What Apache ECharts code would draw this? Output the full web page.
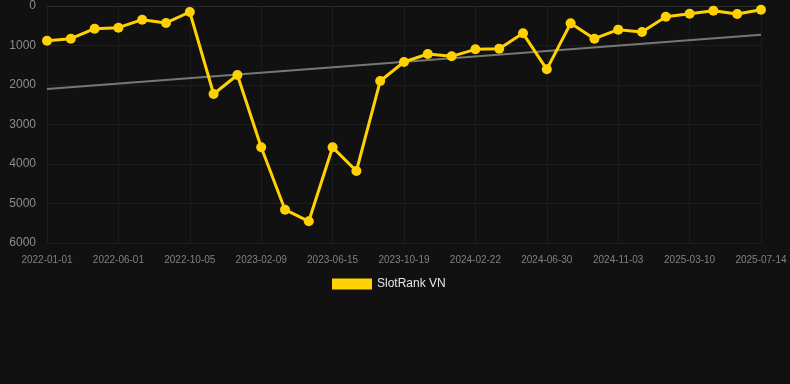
<!DOCTYPE html>
<html>
<head>
<meta charset="utf-8">
<script src="https://cdn.jsdelivr.net/npm/echarts@6/dist/echarts.min.js"></script>
<style>
html,body{margin:0;padding:0;background:#111111;}
#chart{width:790px;height:384px;}
</style>
</head>
<body>
<div id="chart"></div>
<script>
const categories = [
  '2022-01-01','2022-02-20','2022-04-10','2022-06-01','2022-07-13','2022-08-24',
  '2022-10-05','2022-11-16','2022-12-28','2023-02-09','2023-03-23','2023-05-04',
  '2023-06-15','2023-07-27','2023-09-07','2023-10-19','2023-11-30','2024-01-11',
  '2024-02-22','2024-04-05','2024-05-18','2024-06-30','2024-08-11','2024-09-22',
  '2024-11-03','2024-12-15','2025-01-27','2025-03-10','2025-04-21','2025-06-02',
  '2025-07-14'
];
const rankValues = [
  878, 827, 574, 549, 346, 430, 152, 2228, 1747, 3578, 5156, 5451,
  3578, 4177, 1899, 1418, 1215, 1274, 1097, 1080, 692, 1603, 439, 827,
  599, 658, 270, 194, 118, 203, 93
];
const trendStart = 2100;
const trendEnd = 727;
const trendValues = categories.map((c, i) => i === 0 ? trendStart : (i === categories.length - 1 ? trendEnd : null));
const yTicks = [0, 1000, 2000, 3000, 4000, 5000, 6000];

const chart = echarts.init(document.getElementById('chart'), null, {renderer: 'canvas'});
chart.setOption({
  backgroundColor: '#111111',
  animation: false,
  grid: {left: 47, right: 29, top: 6, bottom: 141, containLabel: false},
  legend: {
    data: ['SlotRank VN'],
    top: 273,
    left: 327,
    itemWidth: 40,
    itemHeight: 11,
    itemGap: 10,
    icon: 'rect',
    textStyle: {color: '#e6e6e6', fontSize: 12, fontFamily: 'Liberation Sans, Arial, sans-serif'}
  },
  xAxis: {
    type: 'category',
    data: categories,
    boundaryGap: false,
    axisLine: {show: true, lineStyle: {color: '#2a2a2a'}},
    axisTick: {show: false},
    axisLabel: {interval: 2, color: '#808080', fontSize: 10, margin: 12, fontFamily: 'Liberation Sans, Arial, sans-serif'},
    splitLine: {show: true, interval: 2, lineStyle: {color: '#1c1c1c', width: 1}}
  },
  yAxis: {
    type: 'value',
    inverse: true,
    min: yTicks[0],
    max: yTicks[yTicks.length - 1],
    interval: 1000,
    axisLine: {show: false},
    axisTick: {show: false},
    axisLabel: {color: '#8c8c8c', fontSize: 12, margin: 11, fontFamily: 'Liberation Sans, Arial, sans-serif',
      formatter: v => String(v)},
    splitLine: {show: true, lineStyle: {color: '#1e1e1e', width: 1}}
  },
  series: [
    {
      name: 'Trend',
      type: 'line',
      data: trendValues,
      connectNulls: true,
      symbol: 'none',
      lineStyle: {color: '#777777', width: 2},
      itemStyle: {color: '#777777'},
      silent: true,
      z: 1
    },
    {
      name: 'SlotRank VN',
      type: 'line',
      data: rankValues,
      symbol: 'circle',
      symbolSize: 10,
      showAllSymbol: true,
      lineStyle: {color: '#FFD100', width: 3},
      itemStyle: {color: '#FFD100'},
      z: 2
    }
  ]
});
</script>
</body>
</html>
